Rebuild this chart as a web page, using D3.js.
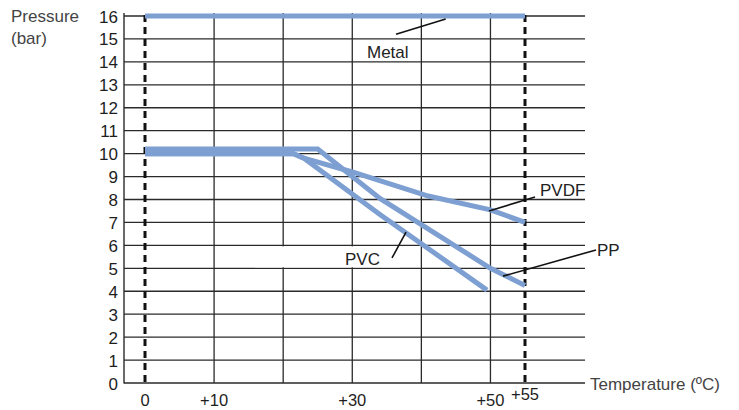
<!DOCTYPE html>
<html><head><meta charset="utf-8">
<script src="https://cdn.jsdelivr.net/npm/d3@7"></script>
<style>body{margin:0;background:#fff}svg{display:block}</style>
</head><body><svg id="c" width="739" height="410"></svg>
<script>
// ---- data ----
const pressureTicks = [0,1,2,3,4,5,6,7,8,9,10,11,12,13,14,15,16];
const tempTicks = [0,10,30,50,55];
const tempTickLabels = ["0","+10","+30","+50","+55"];
const tempGrid = [10,20,30,40,50];
const limitTemps = [0,55];
const seriesNames = ["Metal","PP","PVC","PVDF"];
const metalTemp = [0,55];
const metalPressure = [16,16];
const ppTemp = [0,25,34,50,55];
const ppPressure = [10.2,10.2,8.05,5.0,4.25];
const pvcTemp = [0,21.5,23,34,49.5];
const pvcPressure = [10,10,9.8,7.35,4.05];
const pvdfTemp = [0,21.5,23,30,41,50,55];
const pvdfPressure = [10,10,9.8,9.2,8.15,7.55,7.0];

// ---- layout ----
const W=739,H=410;
const plotLeft=124, plotRight=585, plotTop=13;
const x=d3.scaleLinear().domain([0,55]).range([145,525]);
const y=d3.scaleLinear().domain([0,16]).range([383,16]);
const blue="#7d9fd1", ink="#2a2a2a", font="'Liberation Sans', Arial, Helvetica, sans-serif";
const svg=d3.select("#c");

// grid
svg.append("g").selectAll("line").data(pressureTicks.slice(1)).join("line")
  .attr("x1",plotLeft).attr("x2",plotRight).attr("y1",d=>y(d)).attr("y2",d=>y(d))
  .attr("stroke",ink).attr("stroke-width",1.3);
svg.append("g").selectAll("line").data(tempGrid).join("line")
  .attr("x1",d=>x(d)).attr("x2",d=>x(d)).attr("y1",plotTop).attr("y2",y(0))
  .attr("stroke",ink).attr("stroke-width",1.3);
// axes
svg.append("line").attr("x1",plotLeft).attr("x2",plotLeft).attr("y1",plotTop).attr("y2",y(0)+0.6).attr("stroke",ink).attr("stroke-width",1.4);
svg.append("line").attr("x1",plotLeft).attr("x2",plotRight).attr("y1",y(0)).attr("y2",y(0)).attr("stroke",ink).attr("stroke-width",1.4);

// white box behind PVC label
svg.append("rect").attr("x",255).attr("y",y(6)+1).attr("width",145).attr("height",y(5)-y(6)-2).attr("fill","#fff");

// dashed limit lines
svg.append("g").selectAll("line").data(limitTemps).join("line")
  .attr("x1",d=>x(d)).attr("x2",d=>x(d)).attr("y1",plotTop+2).attr("y2",y(0))
  .attr("stroke","#111").attr("stroke-width",3).attr("stroke-dasharray","7,5");

// series
const series=[[metalTemp,metalPressure],[ppTemp,ppPressure],[pvcTemp,pvcPressure],[pvdfTemp,pvdfPressure]];
const line=d3.line().x(d=>x(d[0])).y(d=>y(d[1]));
svg.append("g").selectAll("path").data(series).join("path")
  .attr("d",s=>line(s[0].map((t,i)=>[t,s[1][i]])))
  .attr("fill","none").attr("stroke",blue).attr("stroke-width",5).attr("stroke-linejoin","miter").attr("stroke-linecap","butt");

// leaders and labels
const leaders=[[[36.33,15.2],[43.52,15.87]],[[49.79,7.5],[56.45,8.11]],[[51.82,4.66],[65.28,5.8]],[[35.75,5.45],[37.78,6.58]]];
svg.append("g").selectAll("line").data(leaders).join("line")
  .attr("x1",d=>x(d[0][0])).attr("y1",d=>y(d[0][1])).attr("x2",d=>x(d[1][0])).attr("y2",d=>y(d[1][1]))
  .attr("stroke","#111").attr("stroke-width",1.6);
const labelPos=[[32.13,14.17],[57.17,8.15],[65.42,5.54],[28.95,5.14]];
const labelText=["Metal","PVDF","PP","PVC"];
svg.append("g").selectAll("text").data(labelText).join("text")
  .attr("x",(d,i)=>x(labelPos[i][0])).attr("y",(d,i)=>y(labelPos[i][1]))
  .text(d=>d).attr("font-family",font).attr("font-size",17).attr("fill","#222");

// tick labels
svg.append("g").selectAll("text").data(pressureTicks).join("text")
  .attr("x",118).attr("y",d=>y(d)+6.5).attr("text-anchor","end")
  .text(d=>d).attr("font-family",font).attr("font-size",17).attr("fill","#1e1e1e");
svg.append("g").selectAll("text").data(tempTicks).join("text")
  .attr("x",d=>x(d)).attr("y",d=>d===55?400:406).attr("text-anchor","middle")
  .text((d,i)=>tempTickLabels[i]).attr("font-family",font).attr("font-size",16.5).attr("fill","#1e1e1e");

// axis titles
const t=svg.append("text").attr("font-family",font).attr("font-size",17).attr("fill","#444");
t.append("tspan").attr("x",11).attr("y",22).text("Pressure");
t.append("tspan").attr("x",11).attr("y",44).text("(bar)");
svg.append("text").attr("x",590).attr("y",390).attr("font-family",font).attr("font-size",17).attr("fill","#444").text("Temperature (ºC)");
</script></body></html>
